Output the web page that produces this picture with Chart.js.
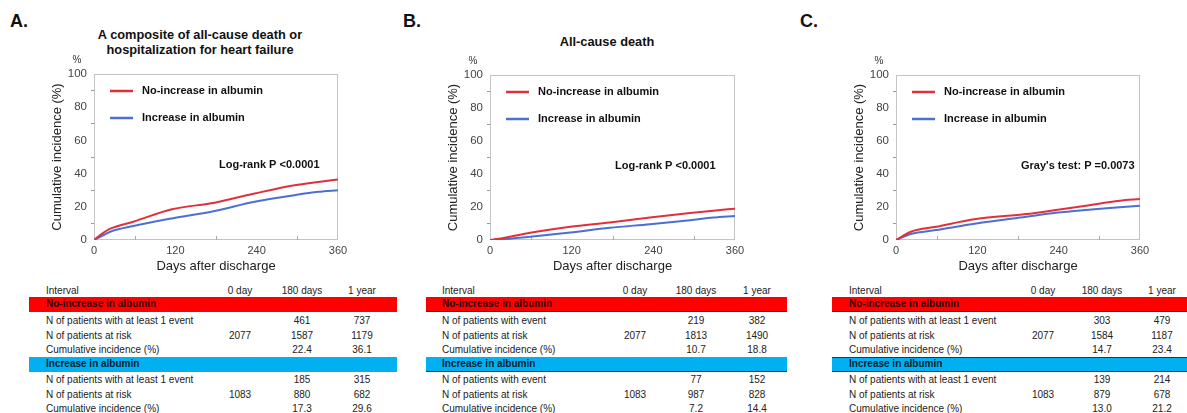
<!DOCTYPE html>
<html>
<head>
<meta charset="utf-8">
<script src="https://cdn.jsdelivr.net/npm/chart.js@4.4.0/dist/chart.umd.min.js"></script>
<style>
body { margin:0; background:#fff; width:1187px; height:413px; overflow:hidden; position:relative;
       font-family:"Liberation Sans", Arial, sans-serif; color:#111; }
.abs { position:absolute; }
.letter { font-size:18px; font-weight:bold; line-height:20px; }
.title { font-size:12.8px; font-weight:bold; text-align:center; line-height:15px; }
.cell { position:absolute; font-size:10px; line-height:15px; white-space:nowrap; color:#222; }
.band { position:absolute; height:15px; box-sizing:border-box; }
.bandtext { position:absolute; font-size:10px; font-weight:bold; line-height:15px; white-space:nowrap; }
canvas { position:absolute; }
</style>
</head>
<body>
<div class="abs letter" style="left:10px;top:11px">A.</div>
<div class="abs letter" style="left:403px;top:11px">B.</div>
<div class="abs letter" style="left:800px;top:11px">C.</div>
<div class="abs title" style="left:80px;top:27px;width:240px">A composite of all-cause death or<br>hospitalization for heart failure</div>
<div class="abs title" style="left:507px;top:34px;width:200px">All-cause death</div>

<canvas id="chartA"></canvas>
<canvas id="chartB"></canvas>
<canvas id="chartC"></canvas>

<script>
// curve readings (days after discharge, cumulative incidence %)
var daysA = [0, 12, 24, 58, 115, 178, 237, 296, 331, 360];
var noIncA = [0, 3.8, 6.8, 11, 18.5, 22.5, 28, 33, 35, 36.5];
var incA = [0, 2.5, 5, 8.4, 13, 17.5, 23, 27, 29, 30];

var daysB = [0, 22, 59, 118, 176, 235, 294, 328, 360];
var noIncB = [0, 1.4, 4.4, 8, 10.6, 13.6, 16.4, 17.8, 19];
var incB = [0, 0.6, 2, 4.6, 7.4, 9.6, 12, 13.6, 14.6];

var daysC = [0, 22, 59, 118, 192, 236, 280, 330, 360];
var noIncC = [0, 5, 8, 12.7, 15.7, 18.2, 20.8, 23.8, 24.8];
var incC = [0, 3.6, 6, 10, 14.1, 16.5, 18.2, 19.8, 20.8];

var seriesNames = ['No-increase in albumin', 'Increase in albumin'];
var testLabels = ['Log-rank P <0.0001', 'Log-rank P <0.0001', "Gray's test: P =0.0073"];

// tables
var tableHead = ['Interval', '0 day', '180 days', '1 year'];
var rowLabelsA = ['N of patients with at least 1 event', 'N of patients at risk', 'Cumulative incidence (%)'];
var rowLabelsB = ['N of patients with event', 'N of patients at risk', 'Cumulative incidence (%)'];
var tabNoIncA = [['', '461', '737'], ['2077', '1587', '1179'], ['', '22.4', '36.1']];
var tabIncA = [['', '185', '315'], ['1083', '880', '682'], ['', '17.3', '29.6']];
var tabNoIncB = [['', '219', '382'], ['2077', '1813', '1490'], ['', '10.7', '18.8']];
var tabIncB = [['', '77', '152'], ['1083', '987', '828'], ['', '7.2', '14.4']];
var tabNoIncC = [['', '303', '479'], ['2077', '1584', '1187'], ['', '14.7', '23.4']];
var tabIncC = [['', '139', '214'], ['1083', '879', '678'], ['', '13.0', '21.2']];

var RED = '#e0303c', BLUE = '#4a70d2';

function pts(d, v) {
  var out = [];
  for (var i = 0; i < d.length; i++) out.push({x: d[i], y: v[i]});
  return out;
}

var framePlugin = {
  id: 'frame',
  beforeDatasetsDraw: function(chart) {
    var ctx = chart.ctx, a = chart.chartArea;
    ctx.save();
    ctx.strokeStyle = '#c4c4c4';
    ctx.lineWidth = 1;
    ctx.strokeRect(a.left + 0.5, a.top + 0.5, a.right - a.left - 1, a.bottom - a.top - 1);
    var xs = chart.scales.x;
    ctx.strokeStyle = '#a8a8a8';
    [60, 180, 300].forEach(function(v) {
      var px = Math.round(xs.getPixelForValue(v)) + 0.5;
      ctx.beginPath(); ctx.moveTo(px, a.bottom); ctx.lineTo(px, a.bottom - 4); ctx.stroke();
    });
    ctx.restore();
  },
  afterDraw: function(chart) {
    var ctx = chart.ctx, a = chart.chartArea, o = chart.options.plugins.frame;
    ctx.save();
    ctx.font = 'bold 11px "Liberation Sans", Arial, sans-serif';
    ctx.textBaseline = 'middle';
    chart.data.datasets.forEach(function(ds, i) {
      var y = a.top + 17 + i * 27;
      ctx.strokeStyle = ds.borderColor;
      ctx.lineWidth = 2.5;
      ctx.beginPath(); ctx.moveTo(a.left + 16, y); ctx.lineTo(a.left + 39, y); ctx.stroke();
      ctx.fillStyle = '#111';
      ctx.fillText(ds.label, a.left + 48, y);
    });
    ctx.fillText(o.test, a.left + 125, a.top + 91);
    ctx.font = '10px "Liberation Sans", Arial, sans-serif';
    ctx.fillStyle = '#333';
    ctx.textAlign = 'center';
    ctx.fillText('%', a.left - 17, a.top - 14);
    ctx.restore();
  }
};

function makeChart(id, area, days, red, blue, test) {
  var el = document.getElementById(id);
  var L = area[0], T = area[1], R = area[2], B = area[3];
  el.width = R - L + 64;
  el.height = B - T + 60;
  el.style.left = (L - 50) + 'px';
  el.style.top = (T - 20) + 'px';
  return new Chart(el.getContext('2d'), {
    type: 'line',
    data: {
      datasets: [
        {label: seriesNames[0], data: pts(days, red), borderColor: RED, borderWidth: 2,
         pointRadius: 0, cubicInterpolationMode: 'monotone', fill: false},
        {label: seriesNames[1], data: pts(days, blue), borderColor: BLUE, borderWidth: 2,
         pointRadius: 0, cubicInterpolationMode: 'monotone', fill: false}
      ]
    },
    options: {
      responsive: false,
      animation: false,
      events: [],
      layout: {padding: {left: 0, top: 20, right: 14, bottom: 0}},
      plugins: {legend: {display: false}, tooltip: {enabled: false}, frame: {test: test}},
      scales: {
        x: {
          type: 'linear', min: 0, max: 360,
          afterFit: function(s) { s.height = 40; },
          border: {display: false},
          grid: {display: false, drawTicks: false},
          ticks: {stepSize: 120, autoSkip: false, padding: 4, color: '#444',
                  font: {size: 11, family: '"Liberation Sans", Arial, sans-serif'}},
          title: {display: true, text: 'Days after discharge', color: '#222',
                  padding: {top: 2, bottom: 6},
                  font: {size: 13, family: '"Liberation Sans", Arial, sans-serif'}}
        },
        y: {
          min: 0, max: 100,
          afterFit: function(s) { s.width = 50; },
          border: {display: false},
          grid: {drawOnChartArea: false, drawTicks: true, tickLength: 3,
                 color: function(c) { return (c.tick && c.tick.value % 20) ? '#999' : 'rgba(0,0,0,0)'; }},
          ticks: {stepSize: 10, autoSkip: false, padding: 4, color: '#444',
                  callback: function(v) { return v % 20 === 0 ? v : ''; },
                  font: {size: 11.5, family: '"Liberation Sans", Arial, sans-serif'}},
          title: {display: true, text: 'Cumulative incidence (%)', color: '#222',
                  padding: {top: 6, bottom: 0},
                  font: {size: 13, family: '"Liberation Sans", Arial, sans-serif'}}
        }
      }
    },
    plugins: [framePlugin]
  });
}

makeChart('chartA', [94, 74, 338, 240], daysA, noIncA, incA, testLabels[0]);
makeChart('chartB', [490, 75, 735, 240], daysB, noIncB, incB, testLabels[1]);
makeChart('chartC', [896, 75, 1140, 240], daysC, noIncC, incC, testLabels[2]);

function addEl(cls, style, text) {
  var d = document.createElement('div');
  d.className = cls;
  d.setAttribute('style', style);
  if (text !== undefined) d.textContent = text;
  document.body.appendChild(d);
  return d;
}

function buildTable(x0, x1, textX, cols, labels, noInc, inc, lines) {
  var rowTops = [313, 328, 342];
  var rowTops2 = [372, 387, 401];
  addEl('cell', 'left:' + textX + 'px;top:283px', tableHead[0]);
  for (var c = 0; c < 3; c++) {
    addEl('cell', 'left:' + (cols[c] - 30) + 'px;width:60px;text-align:center;top:283px', tableHead[c + 1]);
  }
  var b1 = 'left:' + x0 + 'px;width:' + (x1 - x0) + 'px;top:297px;background:#ff0000;';
  var b2 = 'left:' + x0 + 'px;width:' + (x1 - x0) + 'px;top:357px;background:#00b0f0;';
  if (lines) { b1 += 'border-bottom:1.5px solid #333;'; b2 += 'border-bottom:1.5px solid #333;'; }
  if (lines === 2) { b2 += 'border-top:1.5px solid #333;'; }
  addEl('band', b1);
  addEl('band', b2);
  addEl('bandtext', 'left:' + textX + 'px;top:296px;color:#2a0505', seriesNames[0]);
  addEl('bandtext', 'left:' + textX + 'px;top:356px;color:#06202e', seriesNames[1]);
  for (var r = 0; r < 3; r++) {
    addEl('cell', 'left:' + textX + 'px;top:' + rowTops[r] + 'px', labels[r]);
    addEl('cell', 'left:' + textX + 'px;top:' + rowTops2[r] + 'px', labels[r]);
    for (var k = 0; k < 3; k++) {
      addEl('cell', 'left:' + (cols[k] - 30) + 'px;width:60px;text-align:center;top:' + rowTops[r] + 'px', noInc[r][k]);
      addEl('cell', 'left:' + (cols[k] - 30) + 'px;width:60px;text-align:center;top:' + rowTops2[r] + 'px', inc[r][k]);
    }
  }
}

buildTable(29, 397, 46, [240, 302, 362], rowLabelsA, tabNoIncA, tabIncA, 0);
buildTable(426, 787, 442, [635, 696, 757], rowLabelsB, tabNoIncB, tabIncB, 1);
buildTable(832, 1187, 849, [1043, 1102, 1162], rowLabelsA, tabNoIncC, tabIncC, 2);
</script>
</body>
</html>
